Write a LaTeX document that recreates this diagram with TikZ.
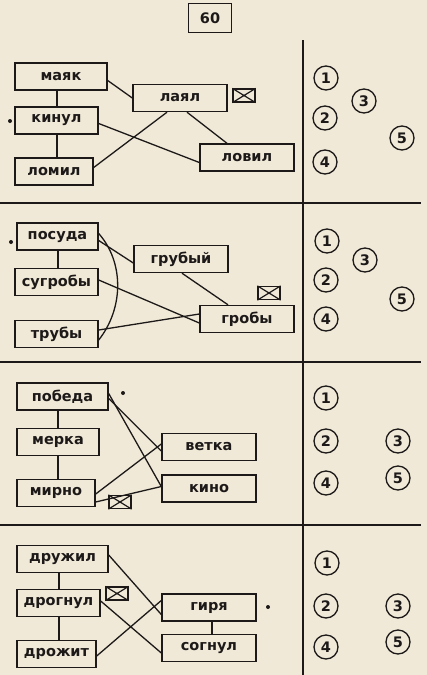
\documentclass[tikz,border=0pt]{standalone}
\usepackage{fontspec}
\setmainfont{DejaVu Sans}
\definecolor{paper}{RGB}{240,233,216}
\definecolor{ink}{RGB}{28,25,24}
\begin{document}
\begin{tikzpicture}[x=1pt,y=-1pt,
  lbl/.style={font=\fontsize{14.5}{16}\selectfont\bfseries,text=ink},
  word/.style={draw=ink,line width=1.4pt,fill=paper,minimum width=#1,minimum height=27pt,inner sep=0pt,lbl},
  word/.default=92pt,
  num/.style={draw=ink,circle,line width=1.3pt,minimum size=24pt,inner sep=0pt,lbl},
  link/.style={draw=ink,line width=1.3pt},
  sep/.style={draw=ink,line width=1.7pt},
  env/.style={draw=ink,line width=1.3pt,minimum width=22pt,minimum height=13pt,inner sep=0pt},
  dotm/.style={fill=ink,circle,inner sep=0pt,minimum size=4pt}]
\fill[paper] (0,0) rectangle (427,675);
\useasboundingbox (0,0) rectangle (427,675);
% title
\node[draw=ink,line width=1.4pt,minimum width=43pt,minimum height=29pt,inner sep=0pt,lbl] (title) at (210,18) {60};
% separators
\coordinate (vt) at (303,40);
\coordinate (vb) at (303,675);
\draw[sep] (vt) -- (vb);
\coordinate (h1l) at (0,203); \coordinate (h1r) at (421,203);
\coordinate (h2l) at (0,362); \coordinate (h2r) at (421,362);
\coordinate (h3l) at (0,525); \coordinate (h3r) at (421,525);
\draw[sep] (h1l) -- (h1r);
\draw[sep] (h2l) -- (h2r);
\draw[sep] (h3l) -- (h3r);

% ===== section 1 =====
\node[word] (a1) at (61,76.5) {маяк};
\node[word=83pt] (a2) at (56.5,120.5) {кинул};
\node[word=78pt] (a3) at (54,171.5) {ломил};
\node[word=94pt] (a4) at (180,98) {лаял};
\node[word=94pt] (a5) at (247,157.5) {ловил};
\node[env] (e1) at (244,95.5) {};
\draw[ink,line width=1.2pt] (e1.north west) -- (e1.south east) (e1.north east) -- (e1.south west);
\node[dotm] (d1) at (10,121) {};
\draw[link] (a1.south -| 57,0) -- (a2.north -| 57,0);
\draw[link] (a2.south -| 57,0) -- (a3.north -| 57,0);
\draw[link] ([yshift=-4pt]a1.east) -- ([yshift=0pt]a4.west);
\draw[link] ([xshift=-13pt]a4.south) -- ([yshift=4pt]a3.east);
\draw[link] ([xshift=7pt]a4.south) -- ([xshift=-20pt]a5.north);
\draw[link] ([yshift=-3pt]a2.east) -- ([yshift=-5pt]a5.west);
\node[num] (n11) at (326,78) {1};
\node[num] (n12) at (325,118) {2};
\node[num] (n13) at (364,101) {3};
\node[num] (n14) at (325,162) {4};
\node[num] (n15) at (402,138) {5};

% ===== section 2 =====
\node[word=81pt] (b1) at (57.5,236.5) {посуда};
\node[word=83pt] (b2) at (56.5,282) {сугробы};
\node[word=83pt] (b3) at (56.5,334) {трубы};
\node[word=94pt] (b4) at (181,259) {грубый};
\node[word=94pt] (b5) at (247,319) {гробы};
\node[env] (e2) at (269,293) {};
\draw[ink,line width=1.2pt] (e2.north west) -- (e2.south east) (e2.north east) -- (e2.south west);
\node[dotm] (d2) at (11,242) {};
\draw[link] (b1.south -| 58,0) -- (b2.north -| 58,0);
\draw[link] ([yshift=-4pt]b1.east) -- ([yshift=-4pt]b4.west);
\draw[link] (b4.south -| 182,0) -- (b5.north -| 228,0);
\draw[link] ([yshift=2pt]b2.east) -- ([yshift=-4pt]b5.west);
\draw[link] ([yshift=4pt]b3.east) -- ([yshift=5pt]b5.west);
\draw[link] ([yshift=3pt]b1.east) .. controls (124,262) and (124,308) .. ([yshift=-6pt]b3.east);
\node[num] (n21) at (327,241) {1};
\node[num] (n22) at (326,280) {2};
\node[num] (n23) at (365,260) {3};
\node[num] (n24) at (326,319) {4};
\node[num] (n25) at (402,299) {5};

% ===== section 3 =====
\node[word=91pt] (c1) at (62.5,396.5) {победа};
\node[word=82pt] (c2) at (58,442) {мерка};
\node[word=78pt] (c3) at (56,493) {мирно};
\node[word=94pt] (c4) at (209,447) {ветка};
\node[word=94pt] (c5) at (209,488.5) {кино};
\node[env] (e3) at (120,502) {};
\draw[ink,line width=1.2pt] (e3.north west) -- (e3.south east) (e3.north east) -- (e3.south west);
\node[dotm] (d3) at (123,393) {};
\draw[link] (c1.south -| 58,0) -- (c2.north -| 58,0);
\draw[link] (c2.south -| 58,0) -- (c3.north -| 58,0);
\draw[link] ([yshift=-2pt]c1.east) -- ([yshift=-4pt]c4.west);
\draw[link] ([yshift=3pt]c1.east) -- ([yshift=2pt]c5.west);
\draw[link] ([yshift=-1pt]c3.east) -- ([yshift=3pt]c4.west);
\draw[link] ([yshift=-9pt]c3.east) -- ([yshift=2pt]c5.west);
\node[num] (n31) at (326,398) {1};
\node[num] (n32) at (326,441) {2};
\node[num] (n33) at (398,441) {3};
\node[num] (n34) at (326,483) {4};
\node[num] (n35) at (398,478) {5};

% ===== section 4 =====
\node[word=91pt] (g1) at (62.5,559) {дружил};
\node[word=83pt] (g2) at (58.5,603) {дрогнул};
\node[word=79pt] (g3) at (56.5,654) {дрожит};
\node[word=94pt] (g4) at (209,607.5) {гиря};
\node[word=94pt] (g5) at (209,648) {согнул};
\node[env] (e4) at (117,593.5) {};
\draw[ink,line width=1.2pt] (e4.north west) -- (e4.south east) (e4.north east) -- (e4.south west);
\node[dotm] (d4) at (268,607) {};
\draw[link] (g1.south -| 59,0) -- (g2.north -| 59,0);
\draw[link] (g2.south -| 59,0) -- (g3.north -| 59,0);
\draw[link] (g4.south -| 212,0) -- (g5.north -| 212,0);
\draw[link] ([yshift=4pt]g1.east) -- ([yshift=-7pt]g4.west);
\draw[link] ([yshift=2pt]g2.east) -- ([yshift=-5pt]g5.west);
\draw[link] ([yshift=-2pt]g3.east) -- ([yshift=7pt]g4.west);
\node[num] (n41) at (327,563) {1};
\node[num] (n42) at (326,606) {2};
\node[num] (n43) at (398,606) {3};
\node[num] (n44) at (326,647) {4};
\node[num] (n45) at (398,642) {5};
\end{tikzpicture}
\end{document}
